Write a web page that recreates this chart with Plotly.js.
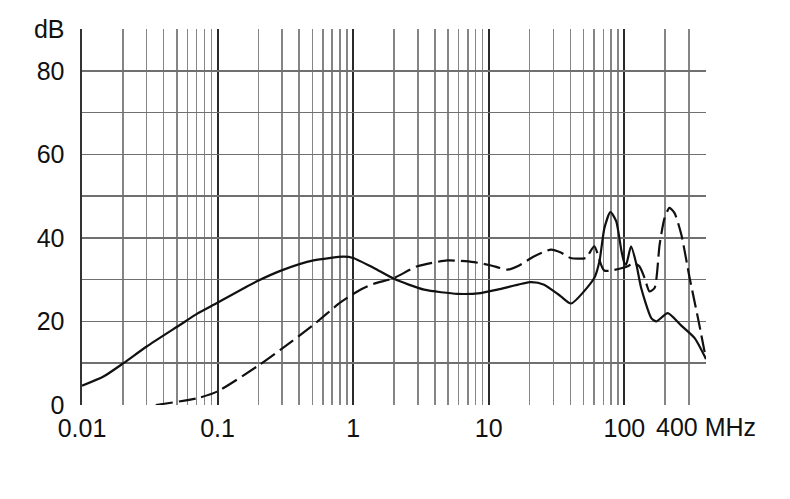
<!DOCTYPE html>
<html>
<head>
<meta charset="utf-8">
<script src="https://cdn.plot.ly/plotly-3.0.1.min.js"></script>
<style>
  html, body { margin: 0; padding: 0; background: #fff; }
  #chart { width: 790px; height: 499px; }
</style>
</head>
<body>
<div id="chart"></div>
<script>
// attenuation curves (MHz, dB)
const solidFreq = [0.01, 0.0144, 0.0202, 0.03, 0.053, 0.0704, 0.099, 0.195, 0.307, 0.51, 0.85, 1.0,
  1.42, 2.0, 3.34, 5.9, 8.7, 12.3, 20.4, 25.6, 34, 40.5, 60, 65.5, 71.3, 78.9, 87, 95, 100, 103,
  112, 122, 133, 158, 172, 209, 263, 330, 400];
const solidDb = [4.6, 6.8, 10.0, 14.0, 19.2, 21.8, 24.4, 29.6, 32.4, 34.6, 35.5, 35.2,
  32.8, 30.2, 27.6, 26.6, 26.8, 27.8, 29.4, 28.8, 26.0, 24.3, 30.4, 34.4, 42.4, 46.2, 44, 37, 34, 33.6,
  38, 34, 28, 20.8, 20.0, 22.0, 19.0, 16.0, 11];

const dashFreq = [0.035, 0.0704, 0.099, 0.195, 0.29, 0.51, 0.81, 1.13, 1.42, 2.0, 2.97, 4.95, 7.8, 10.4, 13.8,
  16.3, 21.7, 28.8, 34, 40, 52, 60, 71, 106, 116, 129, 141, 153, 167, 182, 198, 215, 234, 263, 303,
  349, 400];
const dashDb = [0, 1.6, 3.2, 9.2, 13.2, 19.2, 24.6, 27.6, 29.0, 30.4, 33.2, 34.6, 34.2, 33.4, 32.4,
  33.2, 35.6, 37.2, 36.5, 35.2, 35.2, 38.0, 32.2, 33.2, 34, 33.2, 30.4, 27.2, 28, 38.4, 44.8, 47.2, 46, 40.8, 30.4,
  20.8, 11];

const decadeTicks = [0.01, 0.1, 1, 10, 100];
const decadeLabels = ['0.01', '0.1', '1', '10', '100'];
const minorTicks = [];
[0.01, 0.1, 1, 10, 100].forEach((d) => {
  for (let k = 2; k <= 9; k++) {
    if (d * k <= 400) minorTicks.push(d * k);
  }
});

const dbTicks = [0, 10, 20, 30, 40, 50, 60, 70, 80, 90];
const dbLabels = ['0', '', '20', '', '40', '', '60', '', '80', 'dB'];

const font = { family: 'Liberation Sans, Arial, sans-serif', size: 25, color: '#111' };

const traces = [
  {
    x: solidFreq,
    y: solidDb,
    type: 'scatter',
    mode: 'lines',
    line: { color: '#111', width: 2.2, shape: 'spline', smoothing: 0.6 },
    hoverinfo: 'skip',
  },
  {
    x: dashFreq,
    y: dashDb,
    type: 'scatter',
    mode: 'lines',
    line: { color: '#111', width: 2.2, dash: '17px,6px', shape: 'spline', smoothing: 0.6 },
    hoverinfo: 'skip',
  },
];

const layout = {
  width: 790,
  height: 499,
  margin: { l: 82, r: 84, t: 29, b: 94 },
  paper_bgcolor: '#fff',
  plot_bgcolor: '#fff',
  showlegend: false,
  font,
  xaxis: {
    type: 'log',
    range: [-2, Math.log10(400)],
    tickmode: 'array',
    tickvals: decadeTicks,
    ticktext: decadeLabels,
    ticks: '',
    ticklabelstandoff: 6,
    showgrid: true,
    gridcolor: '#2a2a2a',
    gridwidth: 2,
    minor: {
      tickmode: 'array',
      tickvals: minorTicks.concat([400]),
      showgrid: true,
      gridcolor: '#858585',
      gridwidth: 1.6,
      ticks: '',
    },
    zeroline: false,
    showline: false,
    tickfont: font,
  },
  yaxis: {
    range: [0, 90],
    tickmode: 'array',
    tickvals: dbTicks,
    ticktext: dbLabels,
    ticks: '',
    ticklabelstandoff: 10,
    showgrid: true,
    gridcolor: '#707070',
    gridwidth: 1.6,
    zeroline: false,
    showline: true,
    linecolor: '#333',
    linewidth: 2.5,
    tickfont: font,
  },
  annotations: [
    {
      xref: 'x',
      yref: 'paper',
      x: Math.log10(400),
      y: 0,
      yanchor: 'top',
      xanchor: 'center',
      yshift: -6,
      text: '400 MHz',
      showarrow: false,
      font,
    },
  ],
};

Plotly.newPlot('chart', traces, layout, { displayModeBar: false, staticPlot: true });
</script>
</body>
</html>
